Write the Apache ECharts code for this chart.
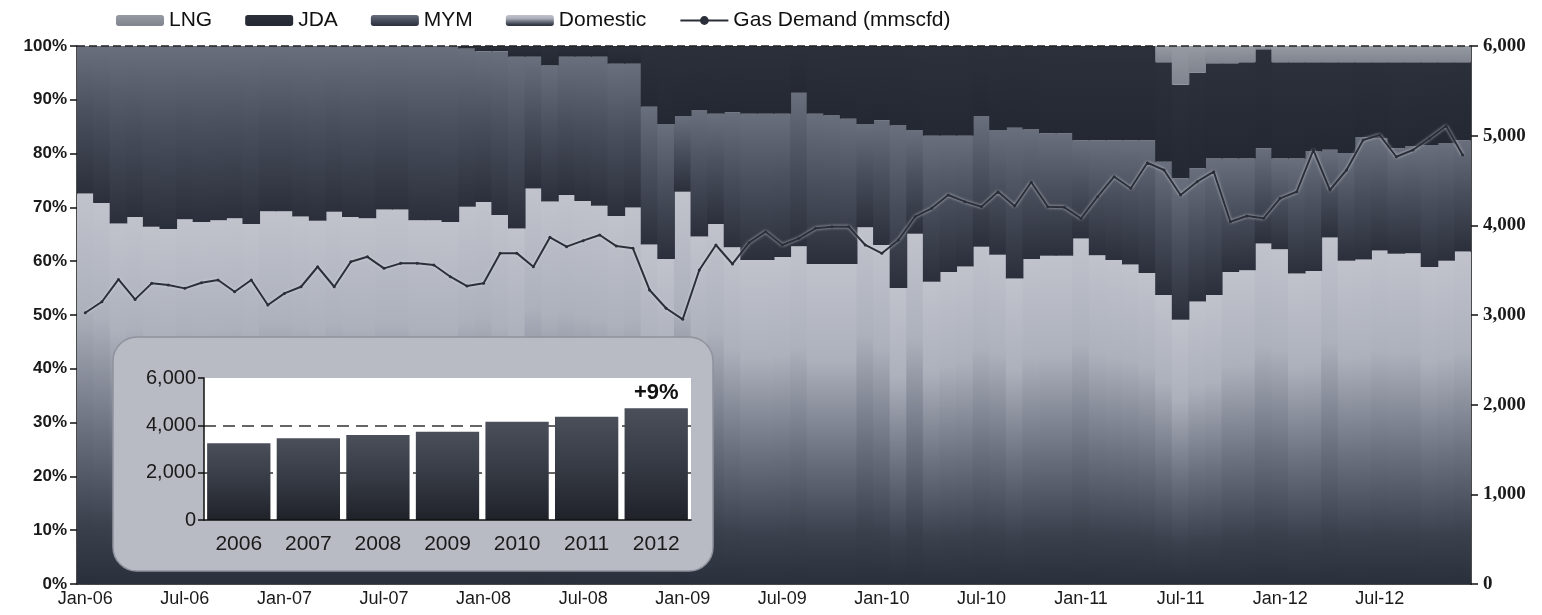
<!DOCTYPE html>
<html>
<head>
<meta charset="utf-8">
<script src="https://cdn.jsdelivr.net/npm/echarts@6/dist/echarts.min.js"></script>
<style>
  html, body { margin: 0; padding: 0; background: #fff; }
  #my_chart { width: 1542px; height: 615px; }
</style>
</head>
<body>
<div id="my_chart"></div>
<script>
  // monthly categories Jan-06 .. Dec-12
  var monthNames = ['Jan', 'Feb', 'Mar', 'Apr', 'May', 'Jun', 'Jul', 'Aug', 'Sep', 'Oct', 'Nov', 'Dec'];
  var yearCodes = ['06', '07', '08', '09', '10', '11', '12'];
  var categories = [];
  yearCodes.forEach(function (y) {
    monthNames.forEach(function (m) { categories.push(m + '-' + y); });
  });

  // supply shares, % of total
  var domestic = [
    72.6, 70.8, 67.0, 68.2, 66.4, 66.0, 67.8, 67.3, 67.6, 68.0, 66.9, 69.3,
    69.3, 68.3, 67.5, 69.2, 68.2, 68.0, 69.6, 69.6, 67.6, 67.6, 67.3, 70.1,
    71.0, 68.6, 66.1, 73.5, 71.1, 72.3, 71.2, 70.3, 68.4, 70.0, 63.1, 60.4,
    72.9, 64.6, 66.9, 62.6, 60.2, 60.2, 60.8, 62.8, 59.5, 59.5, 59.5, 66.3,
    63.0, 55.0, 65.1, 56.2, 58.0, 59.0, 62.7, 61.2, 56.8, 60.4, 61.0, 61.0,
    64.2, 61.1, 60.2, 59.4, 57.8, 53.7, 49.1, 52.5, 53.7, 58.0, 58.3, 63.3,
    62.2, 57.7, 58.2, 64.4, 60.1, 60.3, 62.0, 61.4, 61.5, 58.9, 60.1, 61.8
  ];
  var mym = [
    27.4, 29.2, 33.0, 31.8, 33.6, 34.0, 32.2, 32.7, 32.4, 32.0, 33.1, 30.7,
    30.7, 31.7, 32.5, 30.8, 31.8, 32.0, 30.4, 30.4, 32.4, 32.4, 32.7, 29.4,
    28.0, 30.4, 31.9, 24.5, 25.3, 25.7, 26.8, 27.7, 28.3, 26.7, 25.6, 25.1,
    14.1, 23.5, 20.5, 25.1, 27.2, 27.2, 26.6, 28.5, 27.9, 27.6, 27.0, 19.2,
    23.2, 30.2, 19.3, 27.1, 25.3, 24.3, 24.2, 23.2, 28.0, 24.1, 22.8, 22.8,
    18.3, 21.4, 22.3, 23.1, 24.7, 24.8, 26.3, 24.8, 25.4, 21.1, 20.8, 17.7,
    16.9, 21.4, 22.2, 16.3, 20.0, 22.8, 20.8, 19.6, 19.8, 22.7, 21.8, 20.7
  ];
  var jda = [
    0, 0, 0, 0, 0, 0, 0, 0, 0, 0, 0, 0,
    0, 0, 0, 0, 0, 0, 0, 0, 0, 0, 0, 0.5,
    1.0, 1.0, 2.0, 2.0, 3.6, 2.0, 2.0, 2.0, 3.3, 3.3, 11.3, 14.5,
    13.0, 11.9, 12.6, 12.3, 12.6, 12.6, 12.6, 8.7, 12.6, 12.9, 13.5, 14.5,
    13.8, 14.8, 15.6, 16.7, 16.7, 16.7, 13.1, 15.6, 15.2, 15.5, 16.2, 16.2,
    17.5, 17.5, 17.5, 17.5, 17.5, 18.5, 17.4, 17.7, 17.7, 17.7, 17.9, 18.4,
    17.9, 17.9, 16.6, 16.3, 16.9, 13.9, 14.2, 16.0, 15.7, 15.4, 15.1, 14.5
  ];
  var lng = [
    0, 0, 0, 0, 0, 0, 0, 0, 0, 0, 0, 0,
    0, 0, 0, 0, 0, 0, 0, 0, 0, 0, 0, 0,
    0, 0, 0, 0, 0, 0, 0, 0, 0, 0, 0, 0,
    0, 0, 0, 0, 0, 0, 0, 0, 0, 0, 0, 0,
    0, 0, 0, 0, 0, 0, 0, 0, 0, 0, 0, 0,
    0, 0, 0, 0, 0, 3.0, 7.2, 5.0, 3.2, 3.2, 3.0, 0.6,
    3.0, 3.0, 3.0, 3.0, 3.0, 3.0, 3.0, 3.0, 3.0, 3.0, 3.0, 3.0
  ];

  // gas demand, mmscfd
  var gasDemand = [
    3025, 3148, 3397, 3174, 3353, 3334, 3297, 3360, 3390, 3259, 3390, 3111,
    3241, 3315, 3538, 3315, 3594, 3649, 3520, 3576, 3576, 3557, 3427, 3323,
    3353, 3688, 3690, 3539, 3866, 3762, 3829, 3892, 3769, 3744, 3279, 3075,
    2952, 3502, 3781, 3569, 3807, 3929, 3781, 3855, 3967, 3985, 3985, 3781,
    3688, 3836, 4096, 4190, 4338, 4264, 4208, 4375, 4215, 4480, 4208, 4201,
    4077, 4319, 4542, 4413, 4698, 4617, 4338, 4487, 4598, 4040, 4104, 4078,
    4301, 4375, 4840, 4394, 4617, 4952, 5007, 4765, 4840, 4970, 5108, 4784
  ];

  // inset: annual average demand
  var insetYears = ['2006', '2007', '2008', '2009', '2010', '2011', '2012'];
  var insetDemand = [3241, 3452, 3591, 3732, 4155, 4366, 4718];
  var insetGrowthLabel = '+9%';

  var pctTicks = { min: 0, max: 100, interval: 10 };
  var demandTicks = { min: 0, max: 6000, interval: 1000 };
  var insetTicks = { min: 0, max: 6000, interval: 2000 };

  var FONT = '"Liberation Sans", Arial, sans-serif';

  function grad(stops) {
    return new echarts.graphic.LinearGradient(0, 0, 0, 1, stops.map(function (s) {
      return { offset: s[0], color: s[1] };
    }));
  }
  function commas(v) { return Number(v).toLocaleString('en-US'); }

  var my_chart = echarts.init(document.getElementById('my_chart'), null, { renderer: 'canvas' });

  var insetData = insetDemand.map(function (v, i) {
    if (i === insetDemand.length - 1) {
      return {
        value: v,
        label: {
          show: true, position: 'top', distance: 4, formatter: insetGrowthLabel,
          fontFamily: FONT, fontWeight: 'bold', fontSize: 22, color: '#111'
        }
      };
    }
    return v;
  });

  my_chart.setOption({
    animation: false,
    backgroundColor: '#fff',
    textStyle: { fontFamily: FONT },
    legend: {
      left: 111, top: 5,
      itemWidth: 48, itemHeight: 11, itemGap: 33,
      textStyle: { fontFamily: FONT, fontSize: 21, color: '#111' },
      data: ['LNG', 'JDA', 'MYM', 'Domestic', 'Gas Demand (mmscfd)']
    },
    grid: [
      { left: 77, right: 71, top: 46, bottom: 31 },
      { left: 204, top: 378, width: 487, height: 142, show: true, backgroundColor: '#ffffff', borderWidth: 0, z: 15 }
    ],
    graphic: [{
      type: 'rect', z: 10, silent: true,
      shape: { x: 113, y: 337, width: 600, height: 234, r: 24 },
      style: { fill: '#b8bbc4', stroke: '#8f939d', lineWidth: 1.5 }
    }],
    xAxis: [{
      type: 'category', gridIndex: 0, data: categories, boundaryGap: true,
      axisLine: { lineStyle: { color: '#111', width: 1.5 } },
      axisTick: { interval: 5, length: 7, lineStyle: { color: '#111', width: 1.5 } },
      axisLabel: { interval: 5, fontSize: 18, color: '#1a1a1a', margin: 6, fontFamily: FONT }
    }, {
      type: 'category', gridIndex: 1, data: insetYears, z: 23,
      axisLine: { lineStyle: { color: '#111', width: 1.5 } },
      axisTick: { length: 6, lineStyle: { color: '#111', width: 1.5 } },
      axisLabel: { fontSize: 21, color: '#1a1a1a', margin: 14, fontFamily: FONT }
    }],
    yAxis: [{
      type: 'value', gridIndex: 0, position: 'left',
      min: pctTicks.min, max: pctTicks.max, interval: pctTicks.interval,
      axisLine: { show: true, lineStyle: { color: '#111', width: 1.5 } },
      axisTick: { show: true, length: 7, lineStyle: { color: '#111', width: 1.5 } },
      splitLine: { show: false },
      axisLabel: { formatter: '{value}%', fontSize: 17, fontWeight: 'bold', color: '#1a1a1a', margin: 10, fontFamily: FONT }
    }, {
      type: 'value', gridIndex: 0, position: 'right',
      min: demandTicks.min, max: demandTicks.max, interval: demandTicks.interval,
      axisLine: { show: true, lineStyle: { color: '#111', width: 1.5 } },
      axisTick: { show: true, length: 7, lineStyle: { color: '#111', width: 1.5 } },
      splitLine: { show: false },
      axisLabel: { formatter: commas, fontSize: 19, fontWeight: 'bold', color: '#1a1a1a', margin: 12, fontFamily: '"Liberation Serif", "Times New Roman", serif' }
    }, {
      type: 'value', gridIndex: 1, z: 16,
      min: insetTicks.min, max: insetTicks.max, interval: insetTicks.interval,
      axisLine: { show: true, lineStyle: { color: '#111', width: 1.5 } },
      axisTick: { show: true, length: 6, lineStyle: { color: '#111', width: 1.5 } },
      splitLine: { show: true, showMinLine: false, showMaxLine: false, lineStyle: { color: '#333', width: 1.5, type: [12, 7] } },
      axisLabel: { formatter: commas, fontSize: 20, color: '#1a1a1a', margin: 8, fontFamily: FONT }
    }],
    series: [{
      name: 'Domestic', type: 'bar', stack: 'share', data: domestic,
      barCategoryGap: '0%', barWidth: '106%',
      itemStyle: { color: grad([[0, '#c0c3cc'], [0.3, '#adb1bc'], [0.6, '#6c7180'], [0.85, '#3b404d'], [1, '#2a2f3c']]) }
    }, {
      name: 'MYM', type: 'bar', stack: 'share', data: mym, barWidth: '106%',
      itemStyle: { color: grad([[0, '#6a6f7d'], [0.45, '#4b505e'], [1, '#2b2f3b']]) }
    }, {
      name: 'JDA', type: 'bar', stack: 'share', data: jda, barWidth: '106%',
      itemStyle: { color: grad([[0, '#2c303b'], [1, '#242833']]) }
    }, {
      name: 'LNG', type: 'bar', stack: 'share', data: lng, z: 3, barWidth: '106%',
      itemStyle: { color: grad([[0, '#969aa3'], [1, '#80848e']]) },
      markLine: {
        silent: true, symbol: 'none', label: { show: false },
        lineStyle: { type: [8, 4], color: '#222', width: 1.5 },
        data: [{ yAxis: 100 }]
      }
    }, {
      name: 'Gas Demand (mmscfd)', type: 'line', yAxisIndex: 1, data: gasDemand, z: 5,
      symbol: 'circle', symbolSize: 3, showSymbol: true,
      itemStyle: { color: '#2b2f3a' },
      lineStyle: { color: '#2b2f3a', width: 2, shadowColor: 'rgba(215,218,225,0.9)', shadowBlur: 3 }
    }, {
      name: 'Annual', type: 'bar', xAxisIndex: 1, yAxisIndex: 2, data: insetData, z: 22,
      barCategoryGap: '9%',
      itemStyle: { color: grad([[0, '#4b4f59'], [0.5, '#363a44'], [1, '#1f2229']]) }
    }]
  });
</script>
</body>
</html>
